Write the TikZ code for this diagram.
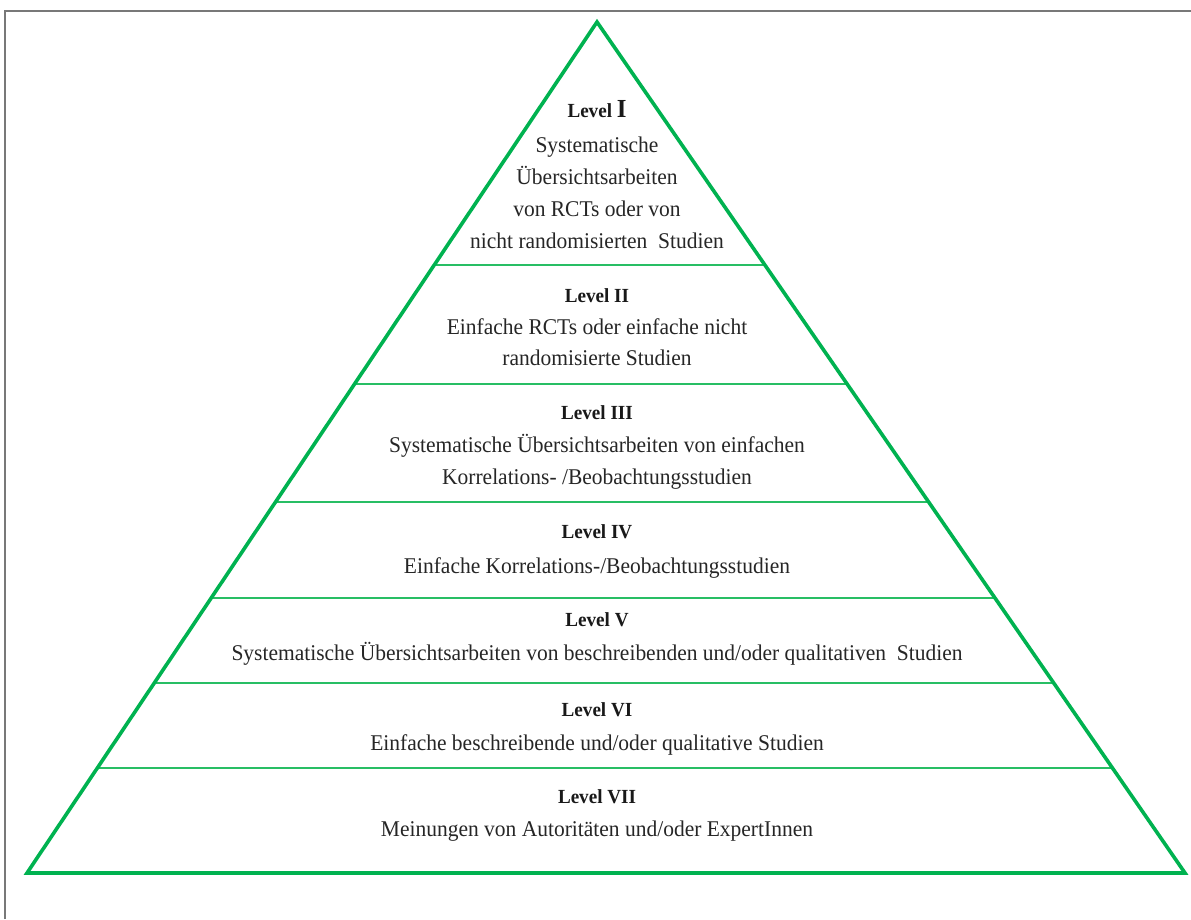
\documentclass[tikz,border=0pt]{standalone}
\usepackage{fontspec}
\setmainfont[FakeStretch=0.955]{Liberation Serif}
\usetikzlibrary{calc}
\definecolor{pgreen}{RGB}{0,178,80}
\definecolor{lgreen}{RGB}{40,190,100}
\definecolor{framegray}{RGB}{120,120,120}
\tikzset{
  outline/.style={draw=pgreen,line width=3.6pt,line join=miter},
  divider/.style={draw=lgreen,line width=1.6pt},
  lvl/.style={font=\fontsize{20}{20}\selectfont\bfseries,inner sep=0pt,anchor=base,text=black!90},
  txt/.style={font=\fontsize{22.5}{22.5}\selectfont,inner sep=0pt,anchor=base,text=black!85},
}
\begin{document}
\begin{tikzpicture}[x=1pt,y=-1pt]
\useasboundingbox (0,0) rectangle (1191,919);
\fill[white] (0,0) rectangle (1191,919);
\draw[framegray,line width=2.2pt] (5,919) -- (5,11) -- (1191,11);
\coordinate (A) at (597,22);
\coordinate (BL) at (27,873);
\coordinate (BR) at (1185,873);
\foreach \y [count=\i] in {265,384,502,598,683,768}{
  \draw[divider] ($(A)!{(\y-22)/851}!(BL)$) coordinate (dl\i) -- ($(A)!{(\y-22)/851}!(BR)$) coordinate (dr\i);
}
\draw[outline] (A) -- (BL) -- (BR) -- cycle;
% Level I
\node[lvl] (l1) at (597,117) {Level \fontsize{26}{26}\selectfont I};
\node[txt] (t1a) at (597,152.5) {Systematische};
\node[txt] (t1b) at (597,184.5) {Übersichtsarbeiten};
\node[txt] (t1c) at (597,216.5) {von RCTs oder von};
\node[txt] (t1d) at (597,248.5) {nicht randomisierten\ \ Studien};
% Level II
\node[lvl] (l2) at (597,302.5) {Level II};
\node[txt] (t2a) at (597,334.5) {Einfache RCTs oder einfache nicht};
\node[txt] (t2b) at (597,365.5) {randomisierte Studien};
% Level III
\node[lvl] (l3) at (597,419.5) {Level III};
\node[txt] (t3a) at (597,452.5) {Systematische Übersichtsarbeiten von einfachen};
\node[txt] (t3b) at (597,484.5) {Korrelations- /Beobachtungsstudien};
% Level IV
\node[lvl] (l4) at (597,538.5) {Level IV};
\node[txt] (t4a) at (597,573.5) {Einfache Korrelations-/Beobachtungsstudien};
% Level V
\node[lvl] (l5) at (597,626.5) {Level V};
\node[txt] (t5a) at (597,660.5) {Systematische Übersichtsarbeiten von beschreibenden und/oder qualitativen\ \ Studien};
% Level VI
\node[lvl] (l6) at (597,716.5) {Level VI};
\node[txt] (t6a) at (597,750.5) {Einfache beschreibende und/oder qualitative Studien};
% Level VII
\node[lvl] (l7) at (597,803.5) {Level VII};
\node[txt] (t7a) at (597,836.5) {Meinungen von Autoritäten und/oder ExpertInnen};
\end{tikzpicture}
\end{document}
